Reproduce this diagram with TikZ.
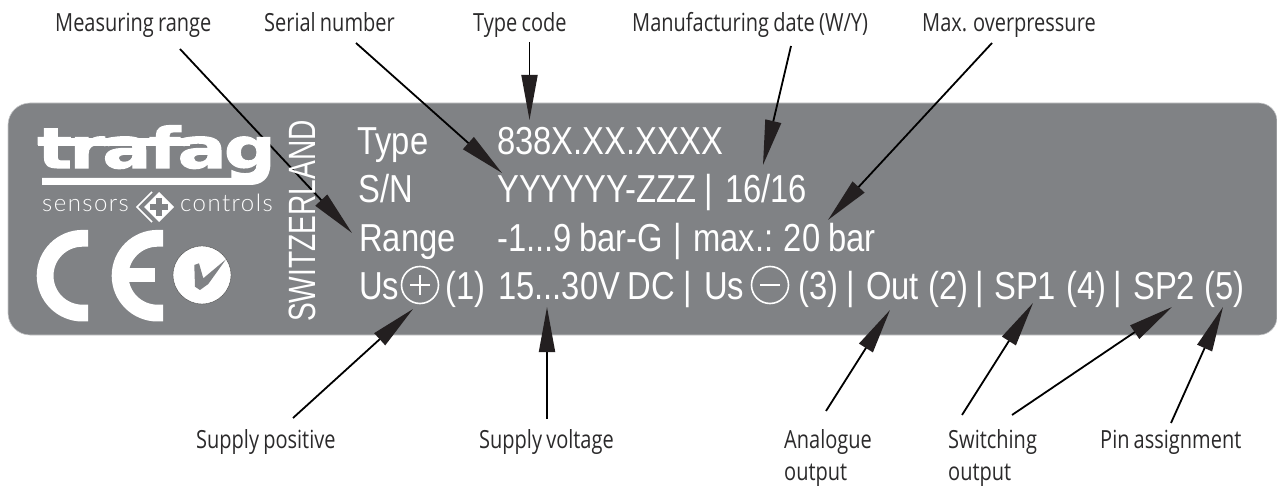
\documentclass[tikz,border=0pt]{standalone}
\usepackage{fontspec}
\usetikzlibrary{arrows.meta}
\setmainfont{Liberation Sans}
\newfontfamily\mainf[FakeStretch=0.84,WordSpace=0.84]{Liberation Sans}
\newfontfamily\swissf[FakeStretch=0.74]{Liberation Sans}
\newfontfamily\labf[FakeStretch=0.80,WordSpace=0.8]{Open Sans}
\newfontfamily\logof[FakeStretch=1.3,FakeBold=2,LetterSpace=-5]{DejaVu Sans Bold}
\newfontfamily\subf[LetterSpace=6]{Lato Light}
\definecolor{plate}{HTML}{808285}
\definecolor{platee}{HTML}{C8C9CB}
\definecolor{headc}{HTML}{231F20}
\definecolor{labc}{HTML}{2B2A2B}
\tikzset{
  plaintext/.style={anchor=base west,inner sep=0pt,text=white,font=\mainf\fontsize{39}{39}\selectfont},
  barsep/.style={anchor=base,inner sep=0pt,text=white,font=\mainf\fontsize{39}{39}\selectfont},
  calllabel/.style={anchor=base west,inner sep=0pt,text=labc,font=\labf\fontsize{25}{25}\selectfont},
  callout/.style={line width=1.8pt,black,-{Triangle[length=45pt,width=16pt,color=headc]}},
  polesign/.style={draw=white,line width=1.6pt,circle,minimum size=37pt,inner sep=0pt},
  polestroke/.style={white,line width=1.6pt},
  cearc/.style={white,line width=16.8pt},
}
\begin{document}
\begin{tikzpicture}[x=1pt,y=-1pt]
\useasboundingbox (0,0) rectangle (1277,486);
% plate
\path[fill=plate,draw=platee,line width=0.6pt]
  (8,125) arc[start angle=180,end angle=90,radius=22pt] -- (1259,103)
  arc[start angle=90,end angle=0,radius=18pt] -- (1277,317)
  arc[start angle=0,end angle=-90,radius=18pt] -- (30,335)
  arc[start angle=270,end angle=180,radius=22pt] -- cycle;
% labels
\node[calllabel] (lrange) at (55,32) {Measuring range};
\node[calllabel] (lserial) at (264,32) {Serial number};
\node[calllabel] (ltype) at (473,32) {Type code};
\node[calllabel] (ldate) at (632,32) {Manufacturing date (W/Y)};
\node[calllabel] (lmax) at (922,32) {Max. overpressure};
\node[calllabel] (lpos) at (196,448) {Supply positive};
\node[calllabel] (lvolt) at (479,448) {Supply voltage};
\node[calllabel] (lana) at (784,448) {Analogue};
\node[calllabel] (lana2) at (784,480) {output};
\node[calllabel] (lsw) at (948,448) {Switching};
\node[calllabel] (lsw2) at (948,480) {output};
\node[calllabel] (lpin) at (1100,448) {Pin assignment};
% connector ends
\coordinate (sA) at (180,49);   \coordinate (tA) at (352,233);
\coordinate (sB) at (356,43);   \coordinate (tB) at (502,173);
\coordinate (sC) at (529.5,42); \coordinate (tC) at (529.5,120);
\coordinate (sD) at (791,46);   \coordinate (tD) at (763,165);
\coordinate (sE) at (992,43);   \coordinate (tE) at (828,220);
\coordinate (sF) at (293,418);  \coordinate (tF) at (413,309);
\coordinate (sG) at (547,419);  \coordinate (tG) at (547,307);
\coordinate (sH) at (826,411);  \coordinate (tH) at (890,310);
\coordinate (sI) at (962,415);  \coordinate (tI) at (1033,303);
\coordinate (sJ) at (1012,415); \coordinate (tJ) at (1172,307);
\coordinate (sK) at (1171,423); \coordinate (tK) at (1223,307);
\foreach \a in {A,B,C,D,E,F,G,H,I,J,K} \draw[callout] (s\a) -- (t\a);
% logo
\node[anchor=base west,inner sep=0pt,text=white,font=\logof\fontsize{56}{56}\selectfont] (logo) at (37,168) {trafag};
\fill[white] (38,138) rectangle (190,146);
\fill[white] (42,178) -- (248,178) .. controls (258,178) and (262,172) .. (263,166) -- (270,166) .. controls (270,178) and (262,185) .. (250,185) -- (42,185) -- cycle;
\node[anchor=base west,inner sep=0pt,text=white,font=\subf\fontsize{24}{24}\selectfont] (lsens) at (42,212) {sensors};
\node[anchor=base west,inner sep=0pt,text=white,font=\subf\fontsize{24}{24}\selectfont] (lctrl) at (180,212) {controls};
\fill[white] (159,192) -- (174,207) -- (159,222) -- (144,207) -- cycle;
\draw[white,line width=1.5pt] (152,192) -- (137,207) -- (152,222);
\fill[plate] (156,198) rectangle (162,216);
\fill[plate] (150,204) rectangle (168,210);
% CE
\draw[cearc] (88,238.3) -- (82.5,238.3) arc[start angle=90,end angle=270,radius=37.4pt] -- (88,313.1);
\draw[cearc] (163,238.3) -- (157.5,238.3) arc[start angle=90,end angle=270,radius=37.4pt] -- (163,313.1);
\fill[white] (125,268) rectangle (155,282);
\node[circle,fill=white,draw=black!70,line width=0.4pt,minimum size=58pt,inner sep=0pt] (mark) at (202,275) {};
\fill[plate] (194.3,265) -- (199,263.3) -- (203.3,278.3) -- (226,259.3) -- (208.3,284) -- (200,290) -- (195,286.7) -- cycle;
% switzerland
\node[rotate=90,anchor=base west,inner sep=0pt,text=white,font=\swissf\fontsize{38}{38}\selectfont] (swiss) at (315,322) {SWITZERLAND};
% rows
\node[plaintext] (r1a) at (357,155) {Type};
\node[plaintext] (r1b) at (497,155) {838X.XX.XXXX};
\node[plaintext] (r2a) at (358,203) {S/N};
\node[plaintext] (r2b) at (497,203) {YYYYYY-ZZZ};
\node[barsep] (r2c) at (709,203) {|};
\node[plaintext] (r2d) at (725,203) {16/16};
\node[plaintext] (r3a) at (359,252) {Range};
\node[plaintext] (r3b) at (497,252) {-1...9 bar-G};
\node[barsep] (r3c) at (678,252) {|};
\node[plaintext] (r3d) at (693,252) {max.: 20 bar};
\node[plaintext] (r4a) at (359,300) {Us};
\node[polesign] (plus) at (420,285) {};
\draw[polestroke] (plus.center) +(-10,0) -- +(10,0);
\draw[polestroke] (plus.center) +(0,-10) -- +(0,10);
\node[plaintext] (r4b) at (445,300) {(1)};
\node[plaintext] (r4c) at (498,300) {15...30V DC};
\node[barsep] (r4d) at (688,300) {|};
\node[plaintext] (r4e) at (704,300) {Us};
\node[polesign] (minus) at (770,285) {};
\draw[polestroke] (minus.center) +(-10,0) -- +(10,0);
\node[plaintext] (r4f) at (798,300) {(3)};
\node[barsep] (r4g) at (851,300) {|};
\node[plaintext] (r4h) at (866,300) {Out};
\node[plaintext] (r4i) at (928,300) {(2)};
\node[barsep] (r4j) at (979.7,300) {|};
\node[plaintext] (r4k) at (994,300) {SP1};
\node[plaintext] (r4l) at (1066,300) {(4)};
\node[barsep] (r4m) at (1118,300) {|};
\node[plaintext] (r4n) at (1133,300) {SP2};
\node[plaintext] (r4o) at (1204,300) {(5)};
\end{tikzpicture}
\end{document}
